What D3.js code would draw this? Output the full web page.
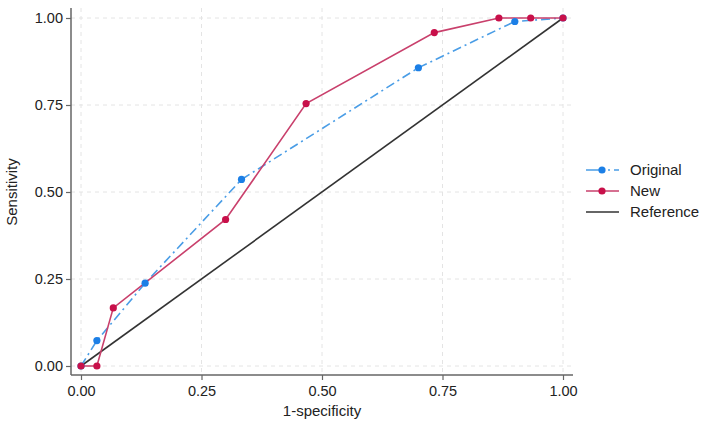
<!DOCTYPE html>
<html><head><meta charset="utf-8">
<script src="https://cdn.jsdelivr.net/npm/d3@7"></script>
<style>body{margin:0;background:#fff;} svg{display:block;font-family:"Liberation Sans",Arial,sans-serif;}</style>
</head><body><svg id="c" width="705" height="433"></svg>
<script>
const ticks = [0, 0.25, 0.5, 0.75, 1];
const tickLabels = ["0.00", "0.25", "0.50", "0.75", "1.00"];
const origX = [0, 0.033, 0.133, 0.333, 0.7, 0.9, 1];
const origY = [0, 0.073, 0.238, 0.536, 0.857, 0.99, 1];
const newX = [0, 0.033, 0.067, 0.3, 0.467, 0.733, 0.867, 0.933, 1];
const newY = [0, 0, 0.167, 0.421, 0.754, 0.958, 1, 1, 1];
const refX = [0, 1];
const refY = [0, 1];
const seriesNames = ["Original", "New", "Reference"];

const svg = d3.select("#c");
const x = d3.scaleLinear().domain([0, 1]).range([81, 563]);
const y = d3.scaleLinear().domain([0, 1]).range([366, 18]);
const axisCol = "#666";

// grid
const g = svg.append("g");
ticks.forEach(t => {
  g.append("line").attr("x1", x(t)).attr("x2", x(t)).attr("y1", 8).attr("y2", 375)
    .attr("stroke", "#e4e4e4").attr("stroke-dasharray", "4,4").attr("stroke-width", 1);
  g.append("line").attr("y1", y(t)).attr("y2", y(t)).attr("x1", 71).attr("x2", 573)
    .attr("stroke", "#e4e4e4").attr("stroke-dasharray", "4,4").attr("stroke-width", 1);
});

// axes
const xa = d3.axisBottom(x).tickValues(ticks).tickFormat((d, i) => tickLabels[i]).tickSize(5).tickPadding(6);
const ya = d3.axisLeft(y).tickValues(ticks).tickFormat((d, i) => tickLabels[i]).tickSize(5).tickPadding(3);
const xg = svg.append("g").attr("transform", "translate(0,375)").call(xa);
const yg = svg.append("g").attr("transform", "translate(71,0)").call(ya);
[xg, yg].forEach(a => {
  a.select(".domain").remove();
  a.selectAll("line").attr("stroke", axisCol).attr("stroke-width", 1.2);
  a.selectAll("text").attr("fill", "#222").style("font-size", "14.5px");
});
svg.append("line").attr("x1", 71).attr("x2", 573).attr("y1", 375).attr("y2", 375).attr("stroke", axisCol).attr("stroke-width", 1.5);
svg.append("line").attr("x1", 71).attr("x2", 71).attr("y1", 8).attr("y2", 375).attr("stroke", axisCol).attr("stroke-width", 1.5);

svg.append("text").attr("x", 322).attr("y", 416).attr("text-anchor", "middle").style("font-size", "15px").attr("fill", "#222").text("1-specificity");
svg.append("text").attr("transform", "translate(17,192) rotate(-90)").attr("text-anchor", "middle").style("font-size", "15px").attr("fill", "#222").text("Sensitivity");

const line = d3.line().x(d => x(d[0])).y(d => y(d[1]));
const refData = refX.map((v, i) => [v, refY[i]]);
const origData = origX.map((v, i) => [v, origY[i]]);
const newData = newX.map((v, i) => [v, newY[i]]);

const blueLine = "#4a9de6", blueDot = "#1c7fe6";
const redLine = "#c9406c", redDot = "#c8104a";

svg.append("path").datum(refData).attr("d", line).attr("fill", "none").attr("stroke", "#333").attr("stroke-width", 1.6);
svg.append("path").datum(origData).attr("d", line).attr("fill", "none").attr("stroke", blueLine).attr("stroke-width", 1.6).attr("stroke-dasharray", "9,4,2,4");
svg.append("path").datum(newData).attr("d", line).attr("fill", "none").attr("stroke", redLine).attr("stroke-width", 1.6);
svg.selectAll(".od").data(origData).enter().append("circle").attr("cx", d => x(d[0])).attr("cy", d => y(d[1])).attr("r", 3.6).attr("fill", blueDot);
svg.selectAll(".nd").data(newData).enter().append("circle").attr("cx", d => x(d[0])).attr("cy", d => y(d[1])).attr("r", 3.6).attr("fill", redDot);

// legend
const lg = svg.append("g");
const ly = [170, 191, 212];
lg.append("line").attr("x1", 586).attr("x2", 619).attr("y1", ly[0]).attr("y2", ly[0]).attr("stroke", blueLine).attr("stroke-width", 1.6).attr("stroke-dasharray", "18,4,2,4");
lg.append("circle").attr("cx", 602).attr("cy", ly[0]).attr("r", 3.6).attr("fill", blueDot);
lg.append("line").attr("x1", 586).attr("x2", 619).attr("y1", ly[1]).attr("y2", ly[1]).attr("stroke", redLine).attr("stroke-width", 1.6);
lg.append("circle").attr("cx", 602).attr("cy", ly[1]).attr("r", 3.6).attr("fill", redDot);
lg.append("line").attr("x1", 586).attr("x2", 619).attr("y1", ly[2]).attr("y2", ly[2]).attr("stroke", "#333").attr("stroke-width", 1.6);
seriesNames.forEach((n, i) => {
  lg.append("text").attr("x", 630).attr("y", ly[i] + 5).style("font-size", "15px").attr("fill", "#222").text(n);
});
</script></body></html>
